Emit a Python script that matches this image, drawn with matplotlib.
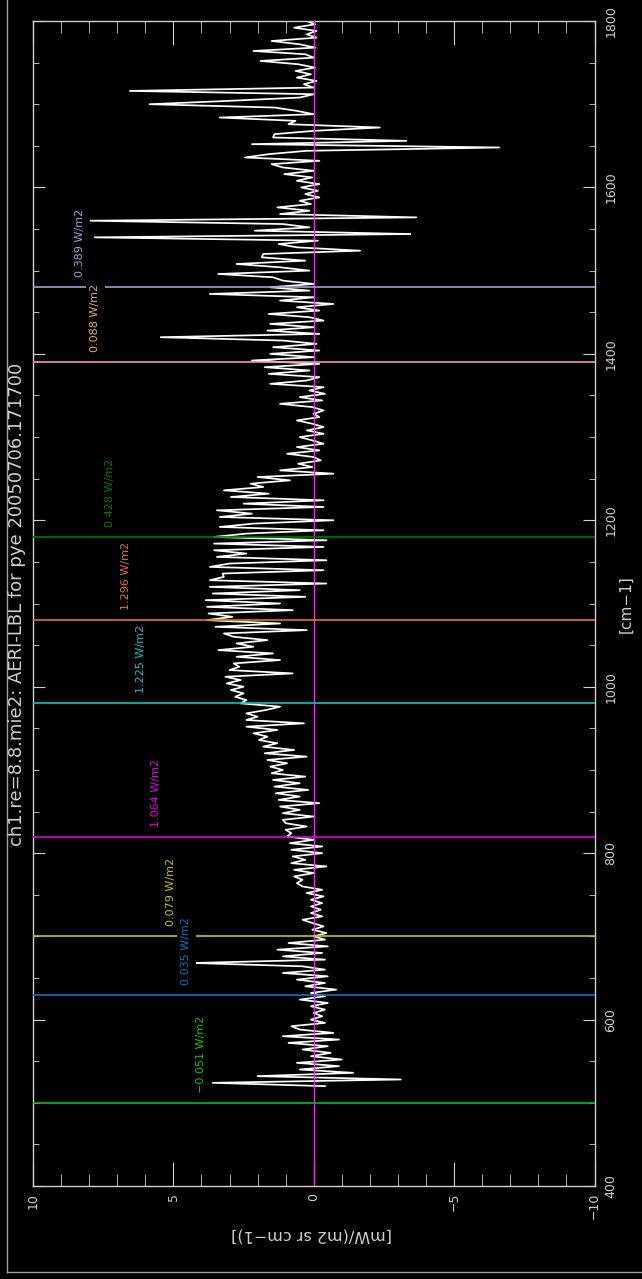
import numpy as np
import matplotlib.pyplot as plt
from matplotlib.lines import Line2D

# --------------------------------------------------
# DATA  (radiance difference, 4 cm-1 steps)
# --------------------------------------------------

wn = np.arange(520, 1801, 4)

rad = np.array([
    -0.4, 3.6, -3.1, 2.0, -1.4, 0.5, -0.9, 0.6, -1.0, 0.1,        # 520
    -0.6, 0.4, -0.5, 0.9, -0.9, 1.1, -0.7, 0.5, 0.8, -0.4,        # 560
    0.1, -0.3, 0.0, -0.4, 0.1, -0.5, 0.5, -0.4, 0.1, -0.8,        # 600
    0.3, -0.4, 0.6, -0.5, 1.1, -0.4, 0.4, 4.3, -0.4, 1.1,         # 640
    -0.3, 1.3, -0.5, 0.9, -0.4, 0.0, -0.45, 0.05, -0.35, 0.05,    # 680
    0.4, -0.3, 0.1, -0.25, 0.1, -0.3, 0.1, -0.35, 0.25, -0.3,     # 720
    0.4, 0.6, 0.4, 0.7, 0.0, 0.7, -0.45, 0.8, 0.3, 0.75,          # 760
    -0.3, 0.8, -0.3, 0.85, 0.0, 0.95, 0.8, 1.0, 0.25, 1.0,        # 800
    1.1, 0.0, 1.1, 0.5, 1.2, -0.2, 1.25, 0.5, 1.35, 0.2,          # 840
    1.4, 0.5, 1.45, 0.3, 1.5, 1.1, 1.55, 0.95, 1.65, 0.25,        # 880
    1.75, 0.7, 1.8, 1.3, 1.95, 1.65, 2.15, 1.3, 2.4, 0.35,        # 920
    2.4, 2.0, 2.4, 1.7, 1.2, 2.6, 2.4, 2.8, 2.5, 2.95,            # 960
    2.5, 3.1, 2.6, 3.15, 0.75, 3.0, 2.65, 2.85, 1.2, 2.75,        # 1000
    1.45, 3.4, 2.15, 2.75, 1.65, 2.85, 3.2, 0.25, 3.5, 1.2,       # 1040
    3.8, 2.9, 3.75, 0.75, 3.8, 1.2, 3.85, 0.3, 3.6, 0.5,          # 1080
    3.7, -0.45, 3.7, 3.2, 3.25, -0.35, 3.7, 3.0, -0.45, 3.45,     # 1120
    2.4, 3.55, -0.35, 3.55, -0.45, 3.55, 2.4, -0.35, 3.35, 2.15,  # 1160
    -0.7, 3.35, 2.2, 3.45, -0.35, 2.5, -0.35, 2.95, 1.6, 3.2,     # 1200
    1.8, 2.25, 0.85, 2.0, -0.7, 1.2, 0.05, 0.55, -0.25, 0.0,      # 1240
    0.95, -0.2, 0.6, -0.35, 0.05, 0.5, -0.35, 0.25, -0.35, 0.05,  # 1280
    0.6, -0.2, 0.0, -0.35, 0.05, 1.2, -0.3, 0.5, -0.4, 0.15,      # 1320
    -0.35, 1.55, 0.25, -0.2, 1.6, 0.15, 1.75, -0.2, 2.2, 0.0,     # 1360
    1.55, -0.2, 1.45, -0.1, 1.1, 5.45, -0.2, 1.65, 0.0, 1.55,     # 1400
    -0.35, 0.15, 1.6, -0.2, 0.6, -0.7, 1.2, 0.0, 3.7, 0.15,       # 1440
    1.55, 0.0, 1.1, 1.45, 3.4, 0.15, 1.2, 2.75, 0.3, 1.85,        # 1480
    1.8, -1.65, 0.6, 1.25, -0.15, 7.8, -3.45, 2.1, 0.15, 1.1,     # 1520
    7.95, -3.65, 1.2, 0.15, 1.3, 0.1, 0.5, -0.2, 0.3, -0.15,      # 1560
    0.45, -0.2, 0.6, 0.05, 1.05, 0.0, 1.1, 1.5, -0.2, 2.45,       # 1600
    1.6, 0.25, -6.6, 2.2, -3.3, 1.45, 1.4, 0.0, -2.35, 0.9,       # 1640
    0.65, 3.35, 0.0, 0.6, 1.4, 5.85, 3.05, 0.5, 0.0, 6.55,        # 1680
    0.0, 0.35, -0.1, 0.6, 0.1, 0.65, -0.05, 0.55, 1.9, 0.0,       # 1720
    0.3, 2.15, -0.05, 0.5, 1.5, -0.1, 0.25, -0.1, 0.7, -0.05,     # 1760
    0.25,                                                         # 1800
])

# band edges and integrated fluxes
band_edge = [500, 630, 700, 820, 980, 1080, 1180, 1390, 1480]
band_flux = ["\u22120.051", "0.035", "0.079", "1.064", "1.225",
             "1.296", "0.428", "0.088", "0.389"]
band_color = ["#00c800", "#1070c8", "#c8c800", "#e000e0", "#00c8c8",
              "#e87800", "#007800", "#e8a0a0", "#a0a0d8"]

title = "ch1.re=8.8.mie2: AERI-LBL for pye 20050706.171700"
xlab = "[cm\u22121]"
ylab = "[mW/(m2 sr cm\u22121)]"

# --------------------------------------------------
# PLOT  (landscape plot turned on its side)
# --------------------------------------------------

W, H = 642, 1279
fg = "#d0d0d0"

fig = plt.figure(figsize=(W / 100, H / 100), dpi=100, facecolor="black")
ax = fig.add_axes([33 / W, 1 - 1186 / H, 561.5 / W, 1165 / H])
ax.set_facecolor("black")

ax.plot(rad, wn, color="white", lw=1.25, zorder=2)
ax.axvline(0, color="#ff20ff", lw=1.0, zorder=3)

for i, (w, f, c) in enumerate(zip(band_edge, band_flux, band_color)):
    ax.axhline(w, color=c, lw=1.2, zorder=3)
    ax.text(4.0 + 0.54 * i, w + 12, f + " W/m2", color=c, rotation=90,
            ha="center", va="bottom", fontsize=8, zorder=4,
            bbox=dict(facecolor="black", edgecolor="none", pad=3))

ax.set_xlim(10, -10)
ax.set_ylim(400, 1800)
ax.set_xticks([10, 5, 0, -5, -10])
ax.set_xticks(np.arange(-10, 11, 1), minor=True)
ax.set_yticks(np.arange(400, 1801, 200))
ax.set_yticks(np.arange(400, 1801, 50), minor=True)

for s in ax.spines.values():
    s.set_color(fg)
    s.set_linewidth(1.0)

ax.tick_params(axis="x", which="major", direction="in", length=17,
               top=True, bottom=True, color=fg, labelcolor=fg,
               labelsize=9, labelrotation=90, pad=5)
ax.tick_params(axis="x", which="minor", direction="in", length=8.6,
               top=True, bottom=True, color=fg)
ax.tick_params(axis="y", which="major", direction="in", length=8.3,
               left=True, right=True, labelleft=False, labelright=True,
               color=fg, labelcolor=fg, labelsize=9, labelrotation=90, pad=7)
ax.tick_params(axis="y", which="minor", direction="in", length=4.3,
               left=True, right=True, color=fg)
for lbl in ax.get_yticklabels():
    lbl.set_va("center")

fig.text(17 / W, 1 - 604 / H, title, color=fg, rotation=90,
         ha="center", va="center", fontsize=13)
fig.text(626 / W, 1 - 604 / H, xlab, color=fg, rotation=90,
         ha="center", va="center", fontsize=11)
fig.text(312 / W, 1 - 1235 / H, ylab, color=fg, rotation=180,
         ha="center", va="center", fontsize=11.5)

# outer frame
fig.add_artist(Line2D([7 / W, 7 / W], [1 - 1272 / H, 1], color="#a0a0a0", lw=1))
fig.add_artist(Line2D([7 / W, 1], [1 - 1272 / H, 1 - 1272 / H], color="#a0a0a0", lw=1))

fig.savefig("out.png", dpi=100, facecolor="black")
